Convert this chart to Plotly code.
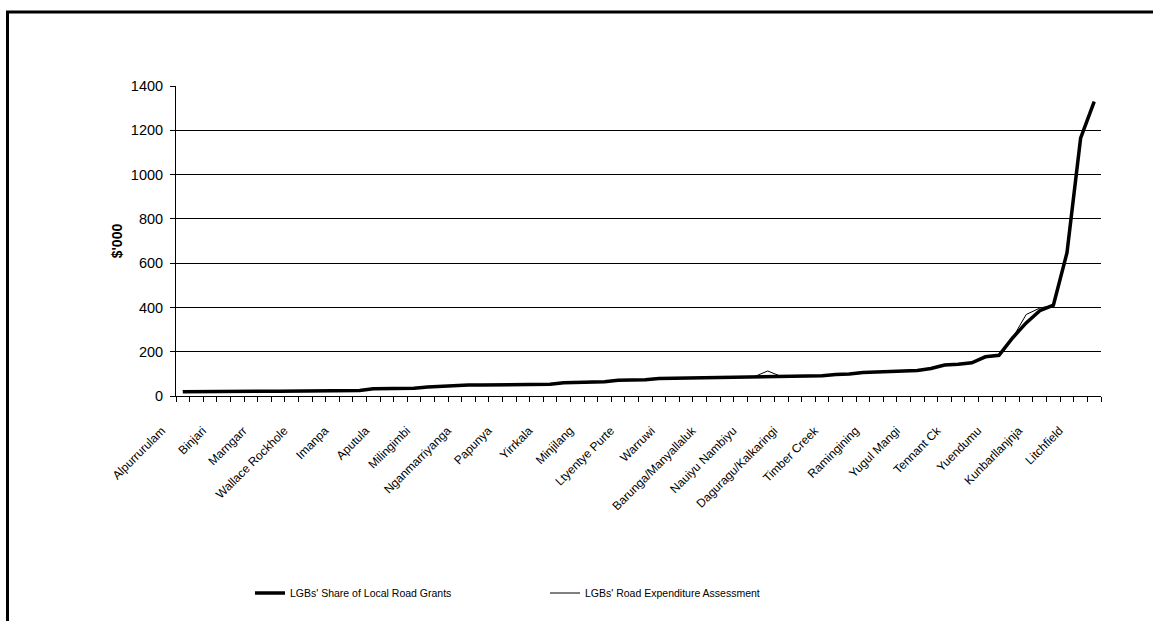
import plotly.graph_objects as go

# ---- data ----
label_names = ["Alpurrurulam", "Binjari", "Marngarr", "Wallace Rockhole", "Imanpa",
               "Aputula", "Milingimbi", "Nganmarriyanga", "Papunya", "Yirrkala",
               "Minjilang", "Ltyentye Purte", "Warruwi", "Barunga/Manyallaluk",
               "Nauiyu Nambiyu", "Daguragu/Kalkaringi", "Timber Creek", "Ramingining",
               "Yugul Mangi", "Tennant Ck", "Yuendumu", "Kunbarllanjnja", "Litchfield"]
label_index = list(range(0, 67, 3))

share = [19, 20, 20, 21, 21, 21, 22, 22, 22, 23, 23, 24, 24, 25,
         33, 33, 34, 35, 41, 45, 46, 50, 50, 51, 51, 52, 52, 53,
         60, 62, 62, 64, 71, 72, 73, 79, 80, 80, 81, 82, 86, 86,
         87, 87, 88, 88, 91, 92, 97, 99, 106, 108, 113, 115, 115, 124,
         140, 143, 150, 177, 184, 262, 330, 385, 410, 647, 1164, 1329]

assessment = [25, 23, 21, 19, 18, 20, 22, 22, 22, 23, 23, 24, 24, 25,
              33, 33, 34, 35, 41, 45, 46, 50, 50, 51, 51, 52, 52, 53,
              60, 62, 66, 64, 71, 72, 73, 79, 80, 80, 81, 82, 86, 86,
              87, 113, 88, 88, 91, 92, 97, 99, 106, 108, 113, 115, 118, 124,
              140, 143, 150, 177, 184, 262, 368, 397, 410, 647, 1164, 1329]

x = list(range(len(share)))

fig = go.Figure()
fig.add_trace(go.Scatter(x=x, y=share, mode="lines",
                         name="LGBs' Share of Local Road Grants",
                         line=dict(color="black", width=3.5)))
fig.add_trace(go.Scatter(x=x, y=assessment, mode="lines",
                         name="LGBs' Road Expenditure Assessment",
                         line=dict(color="black", width=1)))

L, R, T, B = 176, 52, 86, 225
W, H = 1153, 621
pw = W - L - R
ph = H - T - B

def px_x(p):
    return (p - L) / pw

def px_y(p):
    return (H - B - p) / ph

fig.update_layout(
    width=W, height=H,
    margin=dict(l=L, r=R, t=T, b=B, pad=0),
    paper_bgcolor="white", plot_bgcolor="white",
    font=dict(family="Liberation Sans, Arial, sans-serif", color="black", size=12),
    showlegend=True,
    legend=dict(orientation="h", x=px_x(250), y=px_y(593), xanchor="left", yanchor="middle",
                entrywidth=250, entrywidthmode="pixels", font=dict(size=10.5),
                bgcolor="rgba(0,0,0,0)", itemwidth=30, traceorder="normal"),
    shapes=[dict(type="rect", xref="paper", yref="paper",
                 x0=px_x(7.5), x1=px_x(1175), y0=px_y(650), y1=px_y(12),
                 line=dict(color="black", width=3), fillcolor="rgba(0,0,0,0)", layer="above")],
)

fig.update_xaxes(
    range=[-0.5, len(share) - 0.5], tickmode="array", tickvals=label_index, ticktext=label_names,
    tickangle=-45, ticks="", showgrid=False, showline=True, linecolor="black", linewidth=1,
    zeroline=False, tickfont=dict(size=12), ticklabelshift=-21, ticklabelstandoff=22,
    minor=dict(tickmode="linear", tick0=-0.5, dtick=1, ticks="outside", ticklen=5,
               tickcolor="black", tickwidth=1, showgrid=False),
    automargin=False,
)

fig.update_yaxes(
    range=[0, 1400], tickmode="array", tickvals=list(range(0, 1401, 200)),
    ticks="outside", ticklen=5, tickcolor="black", tickwidth=1,
    showgrid=True, gridcolor="black", gridwidth=1,
    showline=True, linecolor="black", linewidth=1, zeroline=False,
    tickfont=dict(size=14.5), ticklabelstandoff=4,
    title=dict(text="<b>$'000</b>", font=dict(size=14), standoff=4),
    automargin=False,
)

fig.write_html("out.html")
